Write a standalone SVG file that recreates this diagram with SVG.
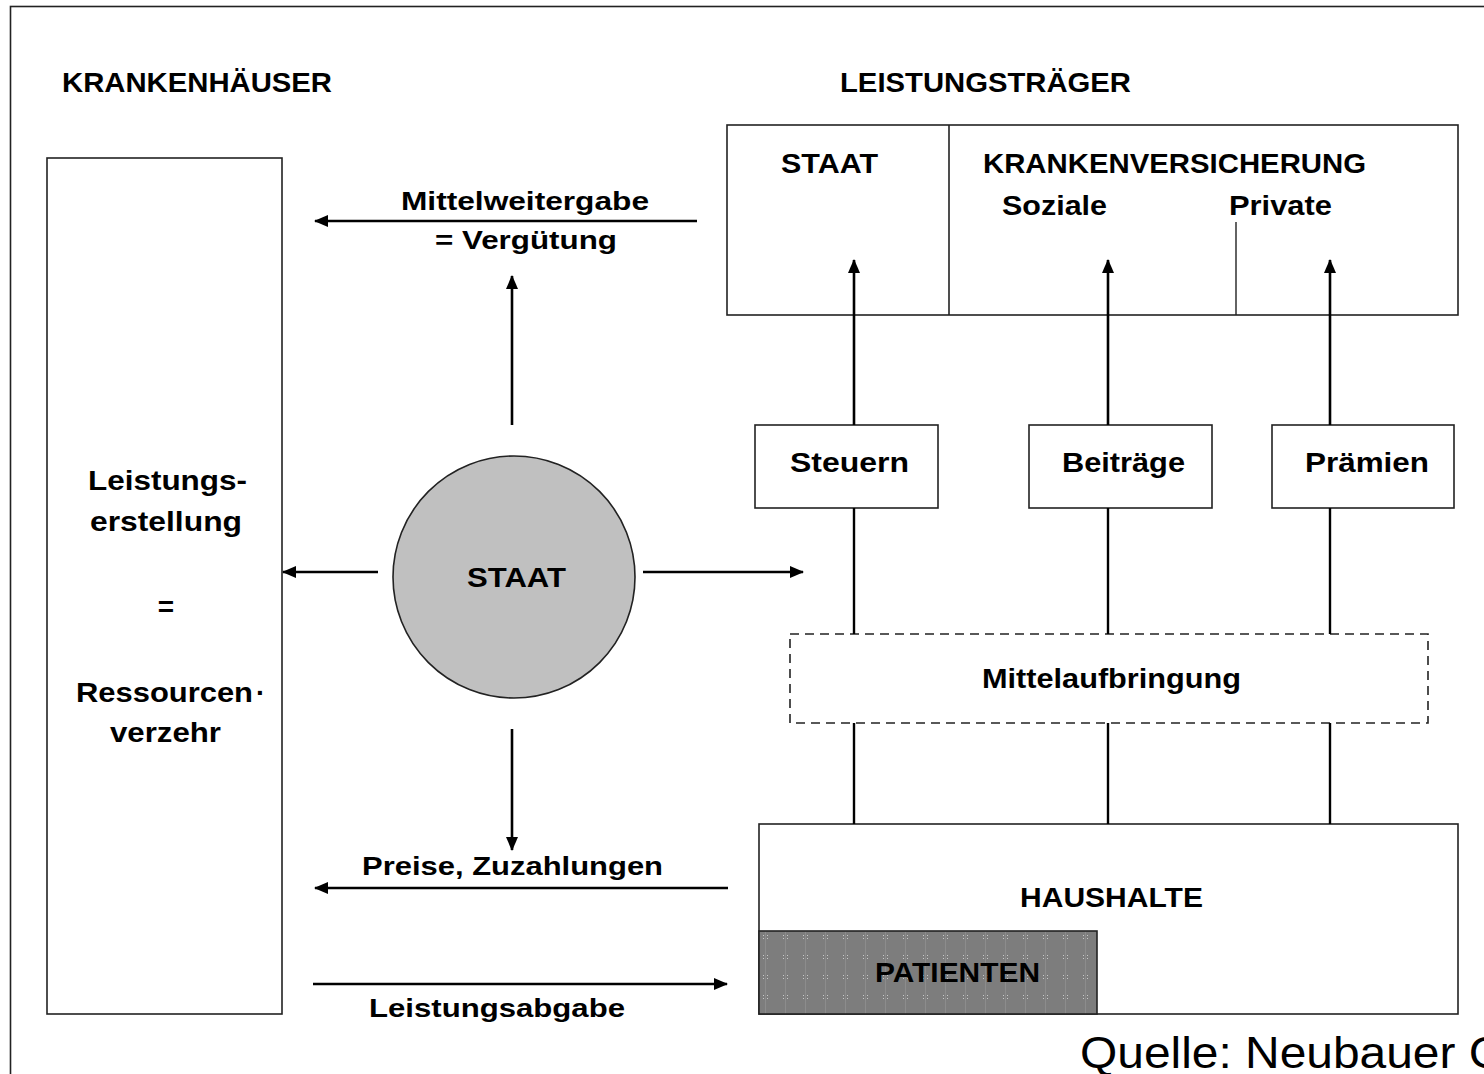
<svg xmlns="http://www.w3.org/2000/svg" width="1484" height="1074" viewBox="0 0 1484 1074">
<style>
.t{font-family:"Liberation Sans",Arial,sans-serif;font-weight:bold;fill:#000;font-size:28px}
.s{font-size:26px}
.box{fill:#fff;stroke:#222;stroke-width:1.6}
.ln{stroke:#000;stroke-width:2.4;fill:none}
.ar{stroke:#000;stroke-width:2.6;fill:none;marker-end:url(#ah)}
</style>
<defs>
<marker id="ah" markerUnits="userSpaceOnUse" markerWidth="14" markerHeight="12" refX="13" refY="6" orient="auto">
<path d="M0,0 L14,6 L0,12 z" fill="#000"/>
</marker>
<pattern id="dots" patternUnits="userSpaceOnUse" x="759" y="931" width="20" height="20">
<rect width="20" height="20" fill="#7d7d7d"/>
<rect x="6" y="0" width="1" height="20" fill="#8c8c8c"/>
<rect x="4" y="4" width="1" height="1" fill="#c8c8c8"/>
<rect x="8" y="4" width="1" height="1" fill="#c8c8c8"/>
<rect x="4" y="7" width="1" height="1" fill="#c8c8c8"/>
<rect x="8" y="7" width="1" height="1" fill="#c8c8c8"/>
</pattern>
</defs>
<rect width="1484" height="1074" fill="#fff"/>
<rect x="10.5" y="6.5" width="1500" height="1100" fill="none" stroke="#222" stroke-width="1.6"/>

<text class="t" x="62" y="92" textLength="270" lengthAdjust="spacingAndGlyphs">KRANKENHÄUSER</text>
<text class="t" x="840" y="92" textLength="291" lengthAdjust="spacingAndGlyphs">LEISTUNGSTRÄGER</text>

<g id="krankenhaeuser">
<rect class="box" x="47" y="158" width="235" height="856"/>
<text class="t" x="88" y="490" textLength="159" lengthAdjust="spacingAndGlyphs">Leistungs-</text>
<text class="t" x="90" y="531" textLength="152" lengthAdjust="spacingAndGlyphs">erstellung</text>
<text class="t" x="166" y="616" text-anchor="middle">=</text>
<text class="t" x="76" y="702" textLength="177" lengthAdjust="spacingAndGlyphs">Ressourcen</text>
<text class="t" x="256" y="702" font-size="18">·</text>
<text class="t" x="110" y="742" textLength="111" lengthAdjust="spacingAndGlyphs">verzehr</text>
</g>

<g id="leistungstraeger">
<rect class="box" x="727" y="125" width="731" height="190"/>
<line x1="949" y1="125" x2="949" y2="315" stroke="#222" stroke-width="1.6"/>
<line x1="1236" y1="222" x2="1236" y2="315" stroke="#222" stroke-width="1.4"/>
<text class="t" x="781" y="173" textLength="97" lengthAdjust="spacingAndGlyphs">STAAT</text>
<text class="t" x="983" y="173" textLength="383" lengthAdjust="spacingAndGlyphs">KRANKENVERSICHERUNG</text>
<text class="t" x="1002" y="215" textLength="105" lengthAdjust="spacingAndGlyphs">Soziale</text>
<text class="t" x="1229" y="215" textLength="103" lengthAdjust="spacingAndGlyphs">Private</text>
</g>

<g id="staat">
<circle cx="514" cy="577" r="121" fill="#c0c0c0" stroke="#222" stroke-width="1.6"/>
<text class="t" x="467" y="587" textLength="99" lengthAdjust="spacingAndGlyphs">STAAT</text>
</g>

<g id="steuern">
<rect class="box" x="755" y="425" width="183" height="83"/>
<text class="t" x="790" y="472" textLength="119" lengthAdjust="spacingAndGlyphs">Steuern</text>
</g>
<g id="beitraege">
<rect class="box" x="1029" y="425" width="183" height="83"/>
<text class="t" x="1062" y="472" textLength="123" lengthAdjust="spacingAndGlyphs">Beiträge</text>
</g>
<g id="praemien">
<rect class="box" x="1272" y="425" width="182" height="83"/>
<text class="t" x="1305" y="472" textLength="124" lengthAdjust="spacingAndGlyphs">Prämien</text>
</g>

<g id="mittelaufbringung">
<rect x="790" y="634" width="638" height="89" fill="#fff" stroke="#222" stroke-width="1.6" stroke-dasharray="9,6"/>
<text class="t" x="982" y="688" textLength="259" lengthAdjust="spacingAndGlyphs">Mittelaufbringung</text>
</g>

<g id="haushalte">
<rect class="box" x="759" y="824" width="699" height="190"/>
<text class="t" x="1020" y="907" textLength="183" lengthAdjust="spacingAndGlyphs">HAUSHALTE</text>
</g>
<g id="patienten">
<rect x="759" y="931" width="338" height="83" fill="url(#dots)" stroke="#222" stroke-width="1.6"/>
<text class="t" x="875" y="982" textLength="165" lengthAdjust="spacingAndGlyphs">PATIENTEN</text>
</g>

<g id="connectors">
<line class="ar" x1="697" y1="221" x2="315" y2="221"/>
<line class="ar" x1="512" y1="425" x2="512" y2="276"/>
<line class="ar" x1="378" y1="572" x2="283" y2="572"/>
<line class="ar" x1="643" y1="572" x2="803" y2="572"/>
<line class="ar" x1="512" y1="729" x2="512" y2="850"/>
<line class="ar" x1="728" y1="888" x2="315" y2="888"/>
<line class="ar" x1="313" y1="984" x2="727" y2="984"/>
<line class="ar" x1="854" y1="425" x2="854" y2="260"/>
<line class="ar" x1="1108" y1="425" x2="1108" y2="260"/>
<line class="ar" x1="1330" y1="425" x2="1330" y2="260"/>
<line class="ln" x1="854" y1="508" x2="854" y2="634"/>
<line class="ln" x1="1108" y1="508" x2="1108" y2="634"/>
<line class="ln" x1="1330" y1="508" x2="1330" y2="634"/>
<line class="ln" x1="854" y1="723" x2="854" y2="824"/>
<line class="ln" x1="1108" y1="723" x2="1108" y2="824"/>
<line class="ln" x1="1330" y1="723" x2="1330" y2="824"/>
</g>

<text class="t s" x="401" y="210" textLength="248" lengthAdjust="spacingAndGlyphs">Mittelweitergabe</text>
<text class="t s" x="435" y="249" textLength="182" lengthAdjust="spacingAndGlyphs">= Vergütung</text>
<text class="t s" x="362" y="875" textLength="301" lengthAdjust="spacingAndGlyphs">Preise, Zuzahlungen</text>
<text class="t s" x="369" y="1017" textLength="256" lengthAdjust="spacingAndGlyphs">Leistungsabgabe</text>

<text x="1080" y="1068" font-family="Liberation Sans,Arial,sans-serif" font-size="44" fill="#000" textLength="426" lengthAdjust="spacingAndGlyphs">Quelle: Neubauer G</text>
</svg>
